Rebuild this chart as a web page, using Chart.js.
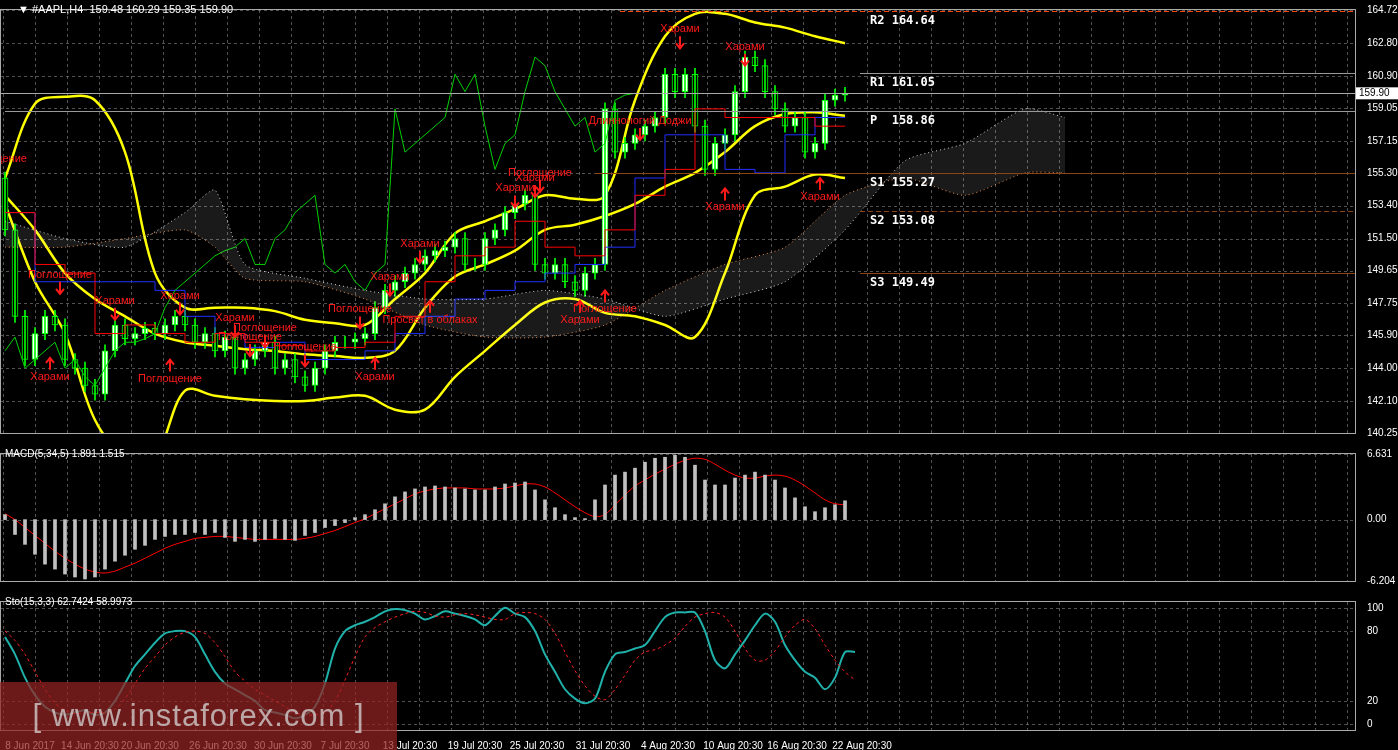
<!DOCTYPE html>
<html><head><meta charset="utf-8">
<script src="https://cdn.jsdelivr.net/npm/chart.js@4/dist/chart.umd.min.js"></script>
<style>
html,body{margin:0;padding:0;background:#000;width:1398px;height:750px;overflow:hidden;font-family:Arial,"Liberation Sans",sans-serif}
.c{position:absolute;left:0;width:1398px}
#t1{position:absolute;left:18px;top:3px;color:#fff;font-size:11px}
.lab{position:absolute;left:5px;color:#fff;font-size:10px}
#wm{position:absolute;left:0;top:682px;width:397px;height:68px;background:rgba(150,35,35,0.72);color:rgba(215,215,215,0.75);font-size:31px;line-height:68px;text-align:center;letter-spacing:1px}
</style></head><body>
<div class="c" style="top:0;height:443px"><canvas id="m"></canvas></div>
<div class="c" style="top:444px;height:147px"><canvas id="d"></canvas></div>
<div class="c" style="top:592px;height:158px"><canvas id="s"></canvas></div>
<div id="t1">▼ #AAPL,H4 &nbsp;159.48 160.29 159.35 159.90</div>
<div class="lab" style="top:448px">MACD(5,34,5) 1.891 1.515</div>
<div class="lab" style="top:596px">Sto(15,3,3) 62.7424 58.9973</div>
<div id="wm">[ www.instaforex.com ]</div>
<script>
const closes=[152,147,144.5,146,147,146.5,144.5,144,143,142.5,145,146.5,145.7,146,146.3,146,146.5,147,146.5,145.5,146,145,145.8,144,144.5,145,145.5,144,144.5,143.5,143,144,145,145.5,145.5,145.7,146,147.5,148.5,149,149.5,150,150.5,150.8,151,151.5,150,150,151.5,152,153,153.5,154,150,149.5,150,149,148.5,149.5,150,159,156.5,157,157.5,158,158.5,161,160,161,158,155.5,157,157.5,160,162,161.5,160,159,158,158.5,156.5,157,159.5,159.8,159.9];
const firstOpen=155;
const bandIdx=[0,3,6,9,12,15,18,21,24,27,30,33,36,39,42,45,48,51,54,57,60,63,66,69,72,75,78,81,84];
const bbUpper=[155,159.3,159.7,159.5,156.5,149.5,147.5,147.5,147.5,147.3,146.8,146.6,146.5,148,149.5,151.8,152.5,153.2,154,153.8,154,159.5,163.2,164.5,164.5,164,163.7,163.2,162.8];
const bbLower=[153.5,149,146,141,139,139,142.7,142.4,142.2,142.1,142.1,142.3,142.4,141.6,141.6,143.5,145,146.5,147.8,148,147.2,147,146.5,145.8,149.5,154,154.5,155.2,155];
const bbMid=[154,152,149.5,148,147,146,145.5,145.3,145.1,145,144.8,144.7,144.6,145,147.5,149.3,150,150.8,152,152.3,152.8,153.5,154.5,155.3,156.5,158,158.7,158.8,158.6];
const kijun=[153,150,149.5,146,146.5,146,145.5,146,145.5,145.3,145,145.2,145.5,147,149,150.5,151,152.5,151,150.5,152,154,155.5,159,158.5,158.5,158.5,158,158];
const tenkan=[153,149,149,149,149,148.5,147,146,145.2,145.5,144.5,144.5,145,146,147,148,148.5,149,149.5,150,151,155,157.5,157.5,155.5,155.3,157.5,158.5,158.5];
const cloudIdx=[0,6,12,18,21,24,30,36,42,48,54,60,66,72,78,84,90,96,102,106];
const spanA=[152.5,151.5,151,153,154.3,150,149.2,148.5,148,148,148.5,148,147,148,149,152,156,157,159,158.5];
const spanB=[151,151,151.5,152,151,149.2,149,148,146.5,145.8,145.8,146.5,148.5,150,151,154,155,154,155.3,155.3];
const chikouShift=21;
const macdHist=[0.5,-1.5,-2.5,-3.5,-4.5,-5,-5.5,-5.8,-6,-5.8,-5,-4.2,-3.6,-3,-2.6,-2,-1.7,-1.5,-1.5,-1.3,-1.5,-1.3,-1.8,-2.2,-2,-2.2,-2,-1.9,-2,-2.1,-1.6,-1.3,-0.8,-0.6,-0.3,0.2,0.5,1,1.6,2.3,2.8,3.1,3.3,3.4,3.3,3.2,3.1,3,3,3.3,3.6,3.7,3.8,3,2,1.2,0.5,0.2,0.1,2,3.5,4.5,4.8,5.2,5.8,6.2,6.3,6.5,6.3,5.5,4,3.5,3.5,4.2,4.5,4.8,4.5,4,3.2,2.2,1.3,0.8,1.2,1.5,1.9];
const macdSignal=[0.6,0,-0.8,-1.6,-2.4,-3.2,-3.9,-4.5,-5,-5.3,-5.4,-5.2,-4.8,-4.4,-3.9,-3.4,-2.9,-2.5,-2.2,-1.9,-1.8,-1.7,-1.7,-1.8,-1.9,-2,-2,-2,-2,-2,-1.9,-1.7,-1.4,-1.1,-0.7,-0.3,0.1,0.6,1.1,1.6,2.1,2.6,2.9,3.1,3.2,3.2,3.2,3.1,3.1,3.1,3.2,3.4,3.6,3.6,3.3,2.7,2,1.3,0.7,0.3,0.5,1.5,2.5,3.4,4,4.6,5.1,5.6,6,6.2,6.1,5.6,5,4.5,4.2,4.2,4.4,4.5,4.4,4,3.4,2.7,2,1.6,1.5];
const stoMain=[75,60,40,25,15,10,8,10,12,8,10,20,35,50,60,70,78,80,80,75,60,45,35,30,25,20,12,10,8,5,8,15,35,65,80,85,88,92,97,99,98,95,90,93,97,95,93,90,85,93,100,95,92,80,60,45,30,22,18,22,45,60,62,65,68,80,92,96,96,96,80,55,48,60,72,85,95,88,68,55,45,40,30,40,62,62];
const stoSignal=[80,72,60,45,30,18,12,9,10,10,10,13,22,35,48,58,68,75,79,80,78,70,58,45,37,30,25,20,15,10,8,8,10,20,38,58,75,83,88,92,95,97,96,93,92,94,95,94,92,90,90,95,96,95,90,78,62,46,33,24,21,30,42,55,62,64,68,74,84,92,95,96,92,80,65,55,55,63,75,85,90,82,68,55,45,38,42,55,59];
const priceTicks=[140.25,142.10,144.00,145.90,147.75,149.65,151.50,153.40,155.30,157.15,159.05,160.90,162.80,164.72];
const dateIdx=[2.5,8.5,14.5,21.3,27.8,34,40.5,47,53.2,59.8,66.3,72.8,79.2,85.7];
const dateLabels=["8 Jun 2017","14 Jun 20:30","20 Jun 20:30","26 Jun 20:30","30 Jun 20:30","7 Jul 20:30","13 Jul 20:30","19 Jul 20:30","25 Jul 20:30","31 Jul 20:30","4 Aug 20:30","10 Aug 20:30","16 Aug 20:30","22 Aug 20:30"];
const pivotNames=["R2","R1","P","S1","S2","S3"];
const pivotValues=[164.64,161.05,158.86,155.27,153.08,149.49];
const currentPrice=159.90;
const annIdx=[-1,5.5,4.5,11,16.5,17.5,23,26,24.5,30,35.5,37,38.5,42.5,41.5,51,53.5,53,60,57.5,63.5,67.5,74,72,81.5];
const annPrice=[156.1,149.4,143.5,147.9,143.4,148.2,146.9,146.3,145.8,145.2,147.4,143.5,149.3,146.8,151.2,154.4,155.3,155.0,147.4,146.8,158.3,163.6,162.6,153.3,153.9];
const annText=["Поглощение","Поглощение","Харами","Харами","Поглощение","Харами","Харами","Поглощение","Поглощение","Поглощение","Поглощение","Харами","Харами","Просвет в облаках","Харами","Харами","Поглощение","Харами","Поглощение","Харами","Длинноногий Доджи","Харами","Харами","Харами","Харами"];
const annDir=["d","d","u","d","u","d","d","d","d","d","d","u","d","u","d","d","d","d","u","u","d","d","d","u","u"];

const XMIN=-0.5,XMAX=135;
const pts=(idx,vals)=>idx.map((x,i)=>({x,y:vals[i]}));
const opens=closes.map((c,i)=>i?closes[i-1]:firstOpen);
const bodies=closes.map((c,i)=>({x:i,y:[opens[i],c]}));
const wicks=closes.map((c,i)=>({x:i,y:[Math.min(c,opens[i])-0.35,Math.max(c,opens[i])+0.35]}));
const gridCol='rgba(150,150,150,0.55)';
function rightAxis(min,max,ticks,fmt){
  return {position:'right',min,max,grid:{display:false},border:{display:false},
    afterFit:s=>{s.width=43},
    afterBuildTicks:s=>{s.ticks=ticks.map(v=>({value:v}))},
    ticks:{color:'#fff',font:{size:10,family:'Arial'},padding:4,autoSkip:false,callback:fmt}};
}
function xAxis(show){
  return {type:'linear',offset:false,min:XMIN,max:XMAX,display:show,grid:{display:false,offset:false},border:{display:false},
    afterFit:s=>{if(show)s.height=20},
    afterBuildTicks:s=>{s.ticks=dateIdx.map(v=>({value:v}))},
    ticks:{color:'#fff',font:{size:10,family:'Arial'},autoSkip:false,maxRotation:0,padding:2,callback:(v)=>{const k=dateIdx.indexOf(v);return k>=0?dateLabels[k]:''}}};
}
const frame={id:'frame',
  beforeDatasetsDraw(c){const a=c.chartArea,g=c.ctx,y=c.scales.y;g.save();g.strokeStyle=gridCol;g.setLineDash([3,3]);g.lineWidth=1;
    g.beginPath();for(let x=a.left+3;x<a.right;x+=32){g.moveTo(x+0.5,a.top);g.lineTo(x+0.5,a.bottom);}
    y.ticks.forEach(t=>{const p=Math.round(y.getPixelForValue(t.value))+0.5;g.moveTo(a.left,p);g.lineTo(a.right,p);});g.stroke();g.restore();},
  afterDraw(c){const a=c.chartArea,g=c.ctx;g.save();g.strokeStyle='#aaa';g.lineWidth=1;g.strokeRect(a.left+0.5,a.top-0.5,a.right-a.left,a.bottom-a.top+1);g.restore();}
};
const mainDecor={id:'mainDecor',
  afterDatasetsDraw(c){const g=c.ctx,x=c.scales.x,y=c.scales.y,a=c.chartArea;g.save();
    g.beginPath();g.rect(a.left,a.top,a.right-a.left,a.bottom-a.top);g.clip();
    const pc=['#ff4500','#999','#999','#8b4513','#8b4513','#8b4513'];
    const px0=[61.5,85.5,0,59,85.5,85.5];
    pivotValues.forEach((v,i)=>{const py=Math.round(y.getPixelForValue(v))+0.5;g.strokeStyle=pc[i];g.lineWidth=1;g.setLineDash(i===0||i===4?[5,3]:[]);
      g.beginPath();g.moveTo(x.getPixelForValue(px0[i]),py);g.lineTo(a.right,py);g.stroke();
      g.setLineDash([]);g.fillStyle='#fff';g.font='bold 12px "DejaVu Sans Mono",monospace';g.textBaseline='top';g.fillText(pivotNames[i]+(i===2?'  ':' ')+v.toFixed(2),870,py+3);});
    const cp=Math.round(y.getPixelForValue(currentPrice))+0.5;g.strokeStyle='#aaa';g.beginPath();g.moveTo(a.left,cp);g.lineTo(a.right,cp);g.stroke();
    g.font='11px Arial';g.textAlign='center';
    annIdx.forEach((ix,i)=>{const tx=x.getPixelForValue(ix),ty=y.getPixelForValue(annPrice[i]);
      g.fillStyle='#ff1a1a';g.textBaseline='middle';g.fillText(annText[i],tx,ty);
      g.strokeStyle='#ff1a1a';g.lineWidth=2;g.beginPath();
      if(annDir[i]==='d'){const y0=ty+7,y1=ty+19;g.moveTo(tx,y0);g.lineTo(tx,y1);g.moveTo(tx-4,y1-5);g.lineTo(tx,y1);g.lineTo(tx+4,y1-5);}
      else{const y0=ty-7,y1=ty-19;g.moveTo(tx,y0);g.lineTo(tx,y1);g.moveTo(tx-4,y1+5);g.lineTo(tx,y1);g.lineTo(tx+4,y1+5);}
      g.stroke();});
    g.restore();
    g.save();const ly=y.getPixelForValue(currentPrice);g.fillStyle='#fff';g.fillRect(a.right+1,ly-6,42,12);g.fillStyle='#000';g.font='10px Arial';g.textBaseline='middle';g.fillText('159.90',a.right+4,ly);g.restore();}
};
Chart.defaults.animation=false;
Chart.defaults.plugins.legend.display=false;
Chart.defaults.plugins.tooltip.enabled=false;
Chart.defaults.maintainAspectRatio=false;
const line=(data,color,w,extra)=>Object.assign({type:'line',data,borderColor:color,borderWidth:w,pointRadius:0,tension:0.35,fill:false},extra||{});
new Chart(document.getElementById('m'),{
  data:{datasets:[
    line(pts(cloudIdx,spanA),'rgba(255,255,255,0.8)',1,{borderDash:[1,3],fill:'+1',backgroundColor:'rgba(255,255,255,0.10)',tension:0.2}),
    line(pts(cloudIdx,spanB),'rgba(255,150,80,0.9)',1,{borderDash:[1,3],tension:0.2}),
    line(closes.map((c,i)=>({x:i-chikouShift,y:c})).filter(p=>p.x>=0),'#00d000',1,{tension:0}),
    line(pts(bandIdx,kijun),'#ff0000',1,{stepped:true,tension:0}),
    line(pts(bandIdx,tenkan),'#2030ff',1,{stepped:true,tension:0}),
    {type:'bar',data:wicks,backgroundColor:'#00ff00',barThickness:1,grouped:false},
    {type:'bar',data:bodies,backgroundColor:closes.map((c,i)=>c>=opens[i]?'#fff':'#000'),borderColor:'#00ff00',borderWidth:1,borderSkipped:false,barThickness:6,grouped:false},
    line(pts(bandIdx,bbUpper),'#ffff00',2.5),
    line(pts(bandIdx,bbMid),'#ffff00',2.5),
    line(pts(bandIdx,bbLower),'#ffff00',2.5)
  ]},
  options:{layout:{padding:{top:8,bottom:5,left:0}},scales:{x:xAxis(false),y:rightAxis(140.25,164.72,priceTicks,v=>v.toFixed(2))}},
  plugins:[frame,mainDecor]
});
new Chart(document.getElementById('d'),{
  data:{datasets:[
    {type:'bar',data:macdHist.map((v,i)=>({x:i,y:v})),backgroundColor:'#c0c0c0',barThickness:3,grouped:false},
    line(macdSignal.map((v,i)=>({x:i,y:v})),'#ff0000',1,{tension:0.3})
  ]},
  options:{layout:{padding:{top:8,bottom:6}},scales:{x:xAxis(false),y:rightAxis(-6.204,6.631,[-6.204,0,6.631],v=>v===0?'0.00':v.toString())}},
  plugins:[frame]
});
new Chart(document.getElementById('s'),{
  data:{datasets:[
    line(stoSignal.slice(0,stoMain.length).map((v,i)=>({x:i,y:v})),'#ff2020',1,{borderDash:[3,3],tension:0.3}),
    line(stoMain.map((v,i)=>({x:i,y:v})),'#20b2aa',2,{tension:0.3})
  ]},
  options:{layout:{padding:{top:2,bottom:0}},scales:{x:xAxis(true),y:rightAxis(-5,105,[0,20,80,100],v=>String(v))}},
  plugins:[frame]
});
</script></body></html>
